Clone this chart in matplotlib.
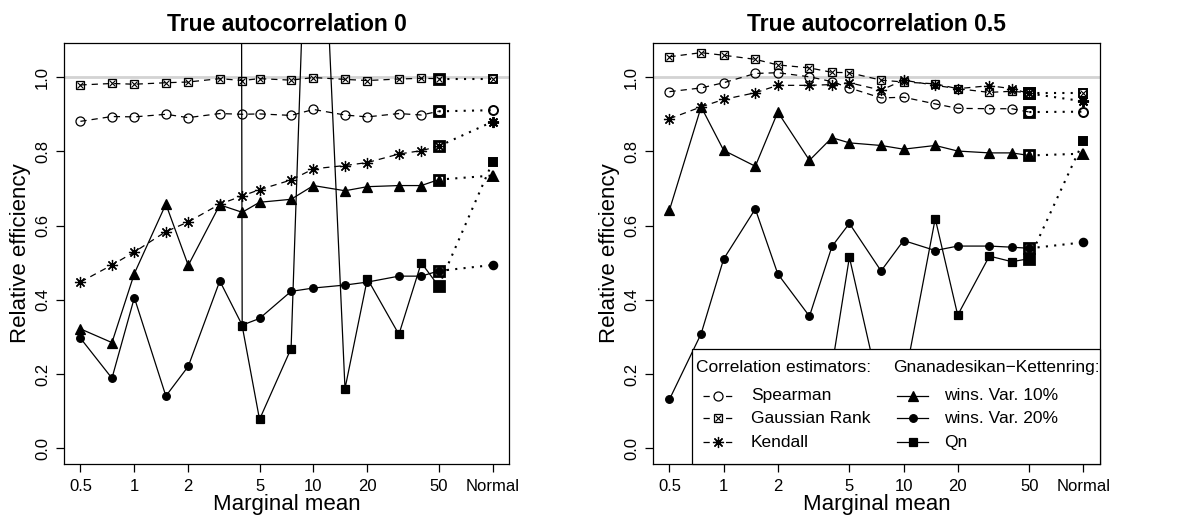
import matplotlib
matplotlib.use('Agg')
import matplotlib.pyplot as plt
import numpy as np
from matplotlib.lines import Line2D
from matplotlib.patches import Rectangle

plt.rcParams['font.family'] = ['Liberation Sans', 'DejaVu Sans']

nan = np.nan
means = [0.5, 0.75, 1, 1.5, 2, 3, 4, 5, 7.5, 10, 15, 20, 30, 40, 50]
normal_pos = 100
xticks = [0.5, 1, 2, 5, 10, 20, 50, 100]
xticklabels = ['0.5', '1', '2', '5', '10', '20', '50', 'Normal']

# true autocorrelation 0
spear0 = [0.881, 0.894, 0.893, 0.900, 0.891, 0.902, 0.900, 0.901, 0.897, 0.913, 0.898, 0.893, 0.902, 0.898, 0.908]
gauss0 = [0.979, 0.983, 0.981, 0.985, 0.987, 0.996, 0.991, 0.996, 0.992, 0.999, 0.994, 0.991, 0.995, 0.997, 0.996]
kend0 = [0.448, 0.494, 0.529, 0.584, 0.610, 0.658, 0.680, 0.697, 0.723, 0.753, 0.762, 0.770, 0.793, 0.802, 0.814]
w10_0 = [0.322, 0.285, 0.471, 0.658, 0.493, 0.656, 0.636, 0.663, 0.671, 0.708, 0.694, 0.705, 0.708, 0.708, 0.724]
w20_0 = [0.297, 0.189, 0.406, 0.141, 0.221, 0.451, 0.332, 0.350, 0.423, 0.432, 0.440, 0.448, 0.464, 0.464, 0.478]
qn0 = [nan, nan, nan, nan, nan, 30.0, 0.330, 0.078, 0.269, 2.05, 0.161, 0.457, 0.307, 0.500, 0.437]
normal0 = {'spear': 0.911, 'gauss': 0.996, 'kend': 0.880, 'w10': 0.735, 'w20': 0.494, 'qn': 0.771}

# true autocorrelation 0.5
spear5 = [0.961, 0.971, 0.985, 1.010, 1.012, 1.001, 0.988, 0.971, 0.944, 0.946, 0.928, 0.916, 0.915, 0.915, 0.906]
gauss5 = [1.055, 1.066, 1.059, 1.048, 1.033, 1.025, 1.013, 1.012, 0.992, 0.987, 0.982, 0.969, 0.959, 0.962, 0.958]
kend5 = [0.888, 0.920, 0.940, 0.958, 0.978, 0.978, 0.980, 0.985, 0.965, 0.992, 0.978, 0.969, 0.977, 0.969, 0.956]
w10_5 = [0.642, 0.920, 0.803, 0.760, 0.906, 0.776, 0.837, 0.823, 0.816, 0.806, 0.816, 0.801, 0.796, 0.796, 0.789]
w20_5 = [0.132, 0.309, 0.510, 0.645, 0.470, 0.356, 0.544, 0.606, 0.478, 0.560, 0.533, 0.545, 0.545, 0.542, 0.539]
qn5 = [nan, 0.12, 0.20, 0.15, 0.22, 0.10, 0.22, 0.515, 0.138, 0.17, 0.619, 0.359, 0.518, 0.503, 0.511]
normal5 = {'spear': 0.907, 'gauss': 0.958, 'kend': 0.935, 'w10': 0.794, 'w20': 0.555, 'qn': 0.828}

dash = (0, (5, 4))
styles = {
    'spear': dict(marker='o', ms=6.5, mfc='none', ls=dash),
    'gauss': dict(marker='s', ms=6.0, mfc='none', ls=dash),
    'kend': dict(marker=(8, 2, 0), ms=8.0, mfc='none', ls=dash),
    'w10': dict(marker='^', ms=7.0, mfc='black', ls='-'),
    'w20': dict(marker='o', ms=5.5, mfc='black', ls='-'),
    'qn': dict(marker='s', ms=6.0, mfc='black', ls='-'),
}


def draw_series(ax, y, y_norm, key):
    st = styles[key]
    ax.plot(means, y, color='black', lw=0.9, ls=st['ls'], marker=st['marker'],
            ms=st['ms'], mfc=st['mfc'], mec='black', mew=0.9, zorder=3)
    ax.plot([means[-1], normal_pos], [y[-1], y_norm], color='black', lw=1.5,
            ls=(0, (1, 3)), zorder=3)
    ax.plot([normal_pos], [y_norm], marker=st['marker'], ms=st['ms'],
            mfc=st['mfc'], mec='black', mew=1.4, zorder=4)
    if key == 'gauss':
        ax.plot(means + [normal_pos], list(y) + [y_norm], ls='none', marker='x',
                ms=4.5, mec='black', mew=0.8, zorder=4)
    # bold open square at the last marginal mean
    ax.plot([means[-1]], [y[-1]], ls='none', marker='s', ms=7, mfc='none',
            mec='black', mew=2.0, zorder=5)


def setup(ax, title):
    ax.set_xscale('log')
    ax.set_xlim(0.405, 123.6)
    ax.set_ylim(-0.042, 1.092)
    ax.axhline(1.0, color='#d3d3d3', lw=2.0, zorder=1)
    ax.set_xticks(xticks)
    ax.set_xticklabels(xticklabels)
    ax.minorticks_off()
    ax.set_yticks([0, 0.2, 0.4, 0.6, 0.8, 1.0])
    ax.set_yticklabels(['0.0', '0.2', '0.4', '0.6', '0.8', '1.0'],
                       rotation=90, va='center')
    ax.tick_params(length=6, width=0.9, labelsize=12, pad=4)
    ax.tick_params(axis='x', pad=5)
    for sp in ax.spines.values():
        sp.set_linewidth(0.9)
    ax.set_xlabel('Marginal mean', fontsize=16, labelpad=0)
    ax.set_ylabel('Relative efficiency', fontsize=16, labelpad=3)
    ax.set_title(title, fontsize=16.5, fontweight='bold', pad=9)


fig = plt.figure(figsize=(11.77, 5.31), dpi=100)
ax1 = fig.add_axes([0.0544, 0.1262, 0.3781, 0.7928])
ax2 = fig.add_axes([0.5548, 0.1262, 0.3798, 0.7928])

for ax, data, norm, title in [
        (ax1, [spear0, gauss0, kend0, w10_0, w20_0, qn0], normal0, 'True autocorrelation 0'),
        (ax2, [spear5, gauss5, kend5, w10_5, w20_5, qn5], normal5, 'True autocorrelation 0.5')]:
    setup(ax, title)
    for key, y in zip(['spear', 'gauss', 'kend', 'w10', 'w20', 'qn'], data):
        draw_series(ax, y, norm[key], key)

# legend in the right panel, drawn by hand (R style headers)
tr = ax2.transAxes
ax2.add_patch(Rectangle((0.087, 0.0), 0.913, 0.273, transform=tr, facecolor='white',
                        edgecolor='black', lw=0.9, zorder=10, clip_on=False))
hdr_y = 0.230
rows_y = [0.162, 0.109, 0.052]
ax2.text(0.096, hdr_y, 'Correlation estimators:', transform=tr, fontsize=12.5,
         va='center', ha='left', zorder=11)
ax2.text(0.537, hdr_y, 'Gnanadesikan\u2212Kettenring:', transform=tr, fontsize=12.5,
         va='center', ha='left', zorder=11)
left_items = [('spear', 'Spearman'), ('gauss', 'Gaussian Rank'), ('kend', 'Kendall')]
right_items = [('w10', 'wins. Var. 10%'), ('w20', 'wins. Var. 20%'), ('qn', 'Qn')]
for items, x0, x1, xm, xt in [(left_items, 0.112, 0.183, 0.145, 0.219),
                              (right_items, 0.546, 0.615, 0.582, 0.651)]:
    for (key, label), yy in zip(items, rows_y):
        st = styles[key]
        ax2.add_line(Line2D([x0, x1], [yy, yy], transform=tr, color='black', lw=0.9,
                            ls=st['ls'], zorder=11))
        ax2.add_line(Line2D([xm], [yy], transform=tr, marker=st['marker'], ms=st['ms'],
                            mfc='white' if st['mfc'] == 'none' else 'black',
                            mec='black', mew=0.9, zorder=12))
        if key == 'gauss':
            ax2.add_line(Line2D([xm], [yy], transform=tr, marker='x', ms=4.5,
                                mec='black', mew=0.8, zorder=13))
        ax2.text(xt, yy, label, transform=tr, fontsize=12.5, va='center', ha='left',
                 zorder=11)

fig.savefig('out.png', dpi=100)
